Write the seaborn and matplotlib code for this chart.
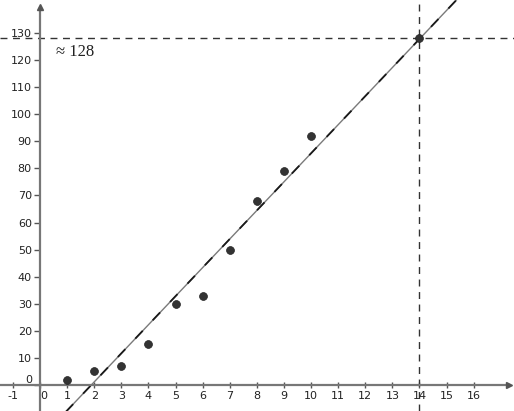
import numpy as np
import pandas as pd
import matplotlib
matplotlib.use("Agg")
import matplotlib.pyplot as plt
import seaborn as sns

# measured values
x_vals = [1, 2, 3, 4, 5, 6, 7, 8, 9, 10]
y_vals = [2, 5, 7, 15, 30, 33, 50, 68, 79, 92]
x_pred = 14
y_pred = 128
x_ticks = list(range(-1, 17))
y_ticks = list(range(0, 131, 10))

df = pd.DataFrame({"x": x_vals, "y": y_vals})

sns.set_style("white")
plt.rcParams["axes.unicode_minus"] = False

fig = plt.figure(figsize=(5.14, 4.11), dpi=100)
ax = fig.add_axes([0, 0, 1, 1])
ax.set_xlim(-1.48, 17.49)
ax.set_ylim(-9.6, 142.2)

# regression line, drawn across the whole view
sns.regplot(data=df, x="x", y="y", ax=ax, scatter=False, ci=None, truncate=False,
            line_kws={"color": "#7a7a7a", "lw": 1.0, "zorder": 2})
sns.regplot(data=df, x="x", y="y", ax=ax, scatter=False, ci=None, truncate=False,
            line_kws={"color": "#1a1a1a", "lw": 1.3, "ls": (0, (6, 8)), "zorder": 2})
ax.set_xlim(-1.48, 17.49)
ax.set_ylim(-9.6, 142.2)

# reading guides at x = 14
ax.axvline(x_pred, color="#333333", lw=1.0, ls=(0, (5, 4)), zorder=1)
ax.axhline(y_pred, color="#333333", lw=1.0, ls=(0, (5, 4)), zorder=1)

sns.scatterplot(x=x_vals + [x_pred], y=y_vals + [y_pred], ax=ax, color="#333333",
                s=32, edgecolor="#222222", linewidth=0.5, zorder=4)

ax.text(0.6, 123, "≈ 128", family="Liberation Serif", fontsize=12, color="#222222",
        va="center", ha="left")

# axes through the origin
for side in ["top", "right"]:
    ax.spines[side].set_visible(False)
ax.spines["left"].set_position(("data", 0))
ax.spines["bottom"].set_position(("data", 0))
for side in ["left", "bottom"]:
    ax.spines[side].set_color("#777777")
    ax.spines[side].set_linewidth(1.6)
    ax.spines[side].set_zorder(3)
ax.spines["left"].set_bounds(-9.6, 139)
ax.spines["bottom"].set_bounds(-1.48, 17.3)
ax.plot(17.3, 0, marker=">", color="#555555", ms=4, clip_on=False, zorder=5)
ax.plot(0, 139.5, marker="^", color="#555555", ms=4, clip_on=False, zorder=5)

ax.set_xticks(x_ticks)
ax.set_yticks(y_ticks)
ax.set_xticklabels([str(t) for t in x_ticks])
ax.set_yticklabels([str(t) for t in y_ticks])
ax.tick_params(axis="x", direction="inout", length=5, width=1, color="#555555",
               labelsize=8, labelcolor="#222222", pad=2, bottom=True)
ax.tick_params(axis="y", direction="out", length=4, width=1, color="#555555",
               labelsize=8, labelcolor="#222222", pad=2, left=True)
for lab in ax.get_xticklabels():
    if lab.get_text() == "0":
        lab.set_horizontalalignment("left")
        lab.set_x(0.18)
for lab in ax.get_yticklabels():
    if lab.get_text() == "0":
        lab.set_verticalalignment("bottom")
ax.set_xlabel("")
ax.set_ylabel("")

fig.savefig("out.png", dpi=100)
